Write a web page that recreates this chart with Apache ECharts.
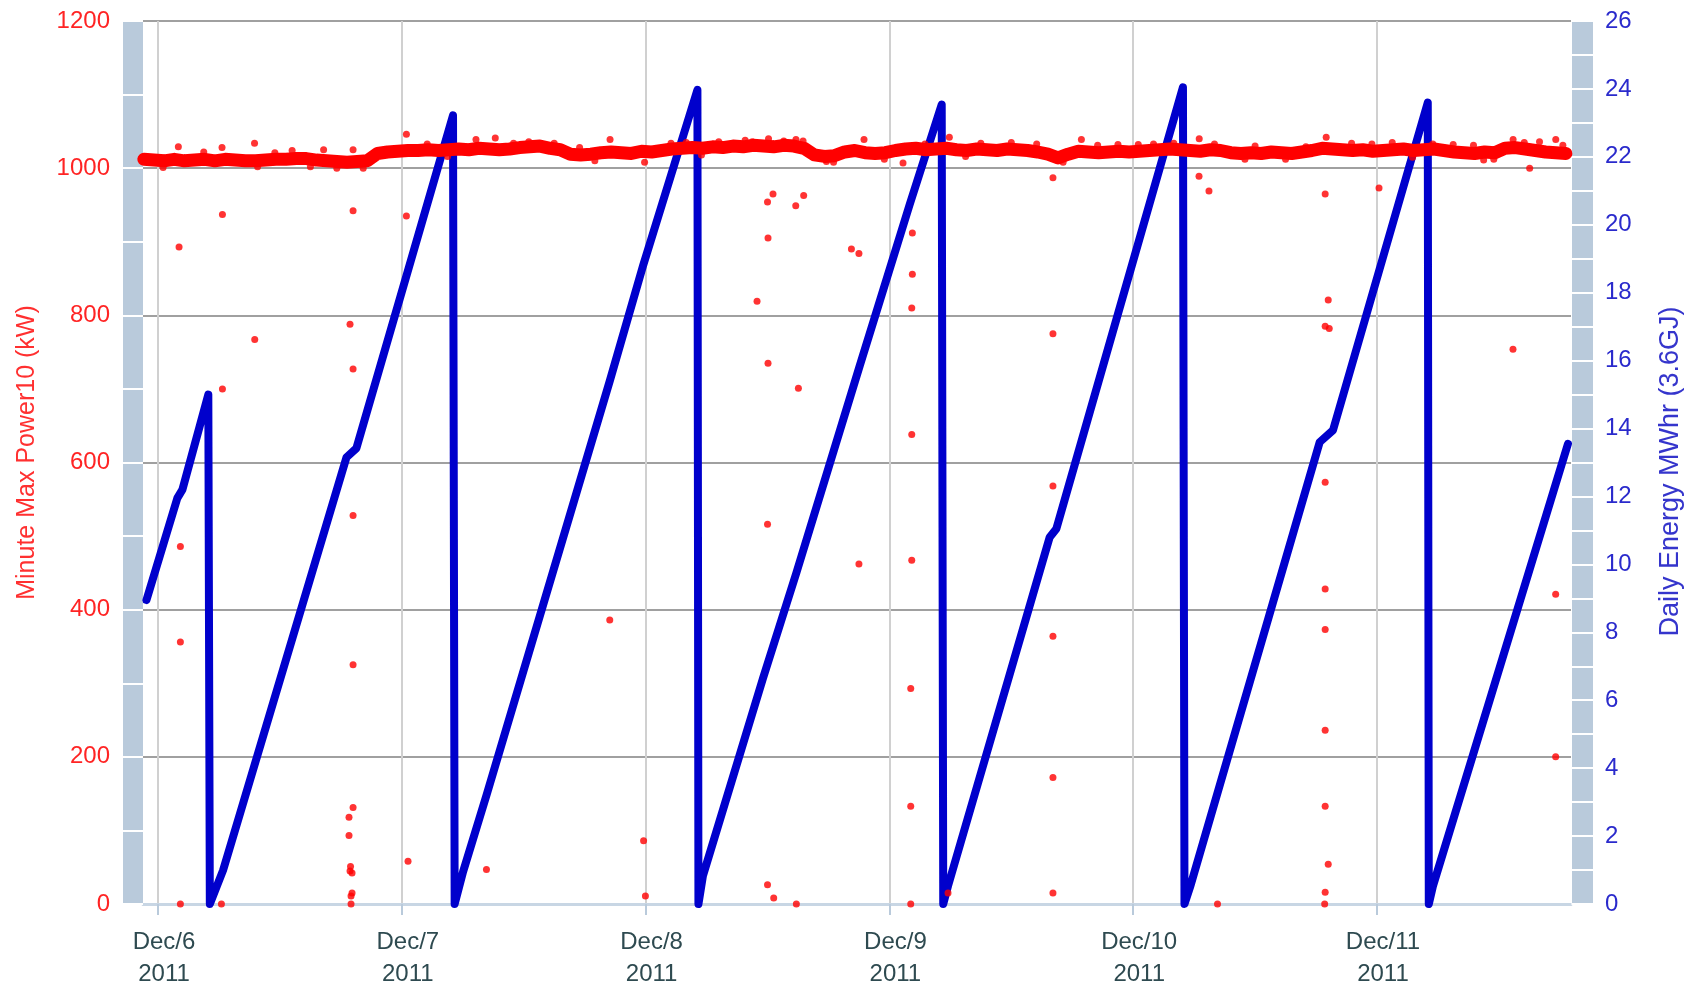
<!DOCTYPE html>
<html>
<head>
<meta charset="utf-8">
<script src="https://cdn.jsdelivr.net/npm/echarts@6/dist/echarts.min.js"></script>
<style>
html,body{margin:0;padding:0;background:#fff;}
#chart{width:1692px;height:991px;}
</style>
</head>
<body>
<div id="chart"></div>
<script>
// ---- Data (hours since Dec 6 2011 00:00) ----
const dayTickHours = [0, 24, 48, 72, 96, 120];
const dayLabels = ['Dec/6', 'Dec/7', 'Dec/8', 'Dec/9', 'Dec/10', 'Dec/11'];
const yearLabel = '2011';

const powerAxisTitle = 'Minute Max Power10 (kW)';
const energyAxisTitle = 'Daily Energy MWhr (3.6GJ)';

// Daily energy (MWhr) sawtooth, read at its corners
const energyHours = [-1.14, 1.9, 2.4, 4.95, 5.1, 6.4, 18.55, 19.53, 29.04, 29.2, 30.03, 32.33, 44.47, 47.75, 53.1, 53.2, 53.65, 59.56, 62.84, 69.08, 74.0, 77.15, 77.3, 77.77, 87.78, 88.44, 100.9, 101.05, 101.6, 114.36, 115.67, 125.0, 125.1, 125.51, 138.8];
const energyValues = [8.95, 11.95, 12.2, 15.0, 0, 0.99, 13.15, 13.42, 23.22, 0, 0.95, 3.2, 15.4, 18.8, 23.97, 0, 0.84, 6.65, 9.75, 15.85, 20.6, 23.54, 0, 0.53, 10.8, 11.05, 24.05, 0, 0.5, 13.6, 13.95, 23.6, 0, 0.53, 13.55];

// Minute max power: main band, read roughly once an hour, first reading at -1.4 h
const bandStartHour = -1.4;
const bandValues = [
  1012,1011,1010,1012,1010,1011,1012,1010,1012,1011,1010,1010,1011,1012,1012,1013,1013,1011,1010,1009,1008,1009,1010,1020,1022,
  1023,1024,1024,1025,1024,1025,1026,1025,1027,1026,1025,1026,1028,1029,1030,1027,1025,1019,1018,1019,1021,1022,1021,1020,
  1023,1022,1024,1026,1027,1028,1027,1029,1028,1030,1029,1031,1030,1029,1031,1030,1027,1018,1016,1017,1022,1024,1021,1020,
  1021,1024,1026,1027,1025,1026,1027,1025,1024,1026,1025,1024,1026,1025,1024,1022,1019,1014,1019,1023,1022,1021,1022,1023,
  1022,1023,1024,1025,1026,1025,1024,1023,1025,1024,1021,1020,1021,1020,1022,1021,1020,1022,1024,1027,1026,1025,1024,1025,
  1023,1024,1025,1026,1024,1025,1026,1024,1022,1021,1020,1022,1021,1027,1028,1026,1024,1022,1021,1020
];

// Single minutes sticking out of the band
const spikeHours  = [2.0, 6.3, 9.5, 13.2, 16.3, 19.2, 24.45, 31.3, 33.2, 36.5, 39.0, 44.5, 47.9, 50.5, 55.2, 57.8, 60.1, 61.6, 62.8, 65.8, 69.5, 77.9, 81.0, 84.0, 86.5, 89.1, 90.9, 94.5, 98.0, 102.5, 108.0, 115.0, 117.5, 121.5, 125.5, 129.5, 133.4, 136.0, 137.6, 0.5, 9.8, 17.6, 20.2, 43.0, 66.5, 107.0, 130.5,
  4.5, 11.5, 15.0, 26.5, 28.5, 35.0, 41.5, 52.0, 53.5, 58.5, 63.5, 71.5, 75.5, 79.5, 92.5, 96.5, 100.0, 104.0, 111.0, 113.0, 119.5, 123.5, 127.5, 131.5, 134.5, 138.3];
const spikeValues = [1029, 1028, 1034, 1024, 1025, 1025, 1046, 1039, 1041, 1036, 1034, 1039, 1008, 1034, 1036, 1038, 1040, 1037, 1039, 1009, 1039, 1042, 1034, 1035, 1033, 1008, 1039, 1032, 1033, 1040, 1030, 1042, 1034, 1035, 1033, 1031, 1039, 1036, 1039, 1001, 1002, 1000, 1000, 1010, 1008, 1012, 1011,
  1022, 1021, 1002, 1033, 1016, 1034, 1028, 1035, 1018, 1036, 1037, 1012, 1033, 1016, 1031, 1032, 1034, 1033, 1012, 1029, 1033, 1015, 1032, 1012, 1035, 1031];

// Outlier minutes (dropouts)
const outlierHours = [2.07, 2.2, 2.2, 2.2, 6.34, 6.34, 6.24, 9.52,
  19.2, 18.9, 19.2, 19.2, 19.2, 19.2, 18.8, 18.8, 18.95, 19.1, 18.9, 19.1, 19.0, 19.0,
  24.45, 24.61, 32.33, 44.47, 47.8, 47.98,
  58.97, 60.0, 60.54, 60.05, 60.05, 60.0, 60.0, 60.61, 62.78, 63.56, 63.04, 62.84,
  68.26, 69.0, 69.0,
  73.34, 74.26, 74.26, 74.2, 74.2, 74.2, 74.1, 74.1, 74.1, 77.77,
  88.1, 88.1, 88.1, 88.1, 88.1, 88.1,
  102.48, 103.46, 104.3,
  114.9, 115.2, 114.9, 115.3, 114.9, 114.9, 114.9, 114.9, 114.9, 115.2, 114.9, 114.85,
  120.2, 133.39, 135.03, 137.59, 137.59];
const outlierValues = [893, 486, 356, 0, 937, 700, 0, 767,
  942, 788, 727, 528, 325, 131, 118, 93, 51, 42, 45, 15, 11, 0,
  935, 58, 47, 386, 86, 11,
  819, 954, 965, 905, 735, 516, 26, 8, 949, 963, 701, 0,
  890, 884, 462,
  1007, 912, 856, 810, 638, 467, 293, 133, 0, 15,
  987, 775, 568, 364, 172, 15,
  989, 969, 0,
  965, 821, 785, 782, 573, 428, 373, 236, 133, 54, 16, 0,
  973, 754, 1000, 421, 200];

// ---- Build series data ----
const energyData = energyHours.map((h, i) => [h, energyValues[i]]);
const bandData = bandValues.map((v, i) => [bandStartHour + i, v]);
const dotData = spikeHours.map((h, i) => [h, spikeValues[i]])
  .concat(outlierHours.map((h, i) => [h, outlierValues[i]]));

const FONT = "'Liberation Sans', Arial, sans-serif";
const BAND = '#B9CADB';
const RED = '#FF0000';
const BLUE = '#0000CC';

const chart = echarts.init(document.getElementById('chart'), null, {renderer: 'canvas'});
chart.setOption({
  animation: false,
  backgroundColor: '#fff',
  grid: {left: 143, right: 121, top: 21, bottom: 87, containLabel: false},
  xAxis: [{
    type: 'value',
    min: -1.48,
    max: 139.1,
    position: 'bottom',
    offset: 4,
    axisLine: {show: true, lineStyle: {color: '#C8D6E4', width: 3}},
    axisTick: {show: true, customValues: dayTickHours, length: 11, lineStyle: {color: '#B9CADB', width: 2}},
    axisLabel: {
      customValues: dayTickHours,
      color: '#2E4A50', fontSize: 24, fontFamily: FONT, lineHeight: 32, margin: 18,
      padding: [0, 0, 0, 12],
      formatter: function (v) {
        const i = dayTickHours.indexOf(Math.round(v));
        return i >= 0 ? dayLabels[i] + '\n' + yearLabel : '';
      }
    },
    splitLine: {show: true, lineStyle: {color: '#D0D0D0', width: 2}}
  }],
  yAxis: [
    { // left, power
      type: 'value', min: 0, max: 1200, interval: 200, position: 'left',
      axisLine: {show: false}, axisTick: {show: false},
      axisLabel: {color: '#FF2424', fontSize: 24, fontFamily: FONT, margin: 33,
        formatter: function (v) { return String(v); }},
      splitLine: {show: true, lineStyle: {color: '#A0A0A0', width: 2}},
      name: powerAxisTitle, nameLocation: 'middle', nameGap: 103,
      nameTextStyle: {color: '#FF3030', fontSize: 25, fontFamily: FONT, padding: [0, 0, 0, 20]}
    },
    { // right, energy
      type: 'value', min: 0, max: 26, interval: 2, position: 'right',
      axisLine: {show: false}, axisTick: {show: false},
      axisLabel: {color: '#2A2ACC', fontSize: 24, fontFamily: FONT, margin: 34},
      splitLine: {show: false},
      name: energyAxisTitle, nameLocation: 'middle', nameGap: 86,
      nameTextStyle: {color: '#3535CC', fontSize: 27, fontFamily: FONT, padding: [0, 18, 0, 0]}
    },
    { // left band
      type: 'value', min: 0, max: 1200, position: 'left', offset: 10.3, z: 1,
      axisLine: {show: true, lineStyle: {color: BAND, width: 20, cap: 'butt'}},
      axisTick: {show: false}, axisLabel: {show: false}, splitLine: {show: false}
    },
    { // left band separators
      type: 'value', min: 0, max: 1200, interval: 100, position: 'left', offset: 0, z: 3,
      axisLine: {show: false},
      axisTick: {show: true, length: 21, lineStyle: {color: '#FFFFFF', width: 2}},
      axisLabel: {show: false}, splitLine: {show: false}
    },
    { // right band
      type: 'value', min: 0, max: 26, position: 'right', offset: 11.2, z: 1,
      axisLine: {show: true, lineStyle: {color: BAND, width: 21, cap: 'butt'}},
      axisTick: {show: false}, axisLabel: {show: false}, splitLine: {show: false}
    },
    { // right band separators
      type: 'value', min: 0, max: 26, interval: 1, position: 'right', offset: 0.5, z: 3,
      axisLine: {show: false},
      axisTick: {show: true, length: 22, lineStyle: {color: '#FFFFFF', width: 2}},
      axisLabel: {show: false}, splitLine: {show: false}
    }
  ],
  series: [
    {
      name: energyAxisTitle, type: 'line', xAxisIndex: 0, yAxisIndex: 1,
      data: energyData, showSymbol: false, z: 2,
      lineStyle: {color: BLUE, width: 8, cap: 'round', join: 'round'}
    },
    {
      name: powerAxisTitle, type: 'line', xAxisIndex: 0, yAxisIndex: 0,
      data: bandData, showSymbol: false, z: 3,
      lineStyle: {color: RED, width: 13, cap: 'round', join: 'round'}
    },
    {
      name: powerAxisTitle + ' outliers', type: 'scatter', xAxisIndex: 0, yAxisIndex: 0,
      data: dotData, symbolSize: 7, z: 4,
      itemStyle: {color: RED}
    }
  ]
});
</script>
</body>
</html>
